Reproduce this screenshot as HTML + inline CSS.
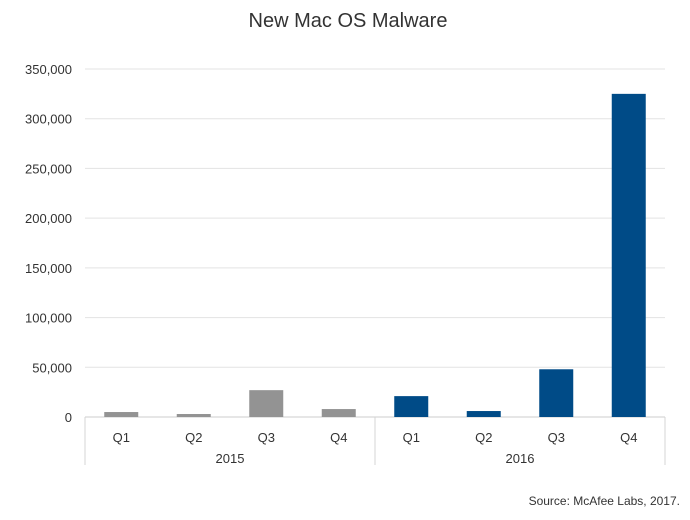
<!DOCTYPE html>
<html><head><meta charset="utf-8"><style>
body{margin:0;background:#fff;font-family:"Liberation Sans",sans-serif;}
</style></head><body>
<svg width="690" height="515" xmlns="http://www.w3.org/2000/svg">
<text x="348" y="27" text-anchor="middle" font-size="20" fill="#333">New Mac OS Malware</text>
<g id="grid"></g><g id="bars"></g><g id="xaxis"></g>
<text x="680" y="505" text-anchor="end" font-size="12" fill="#333">Source: McAfee Labs, 2017.</text>
</svg>
<script>
const categories=["Q1","Q2","Q3","Q4","Q1","Q2","Q3","Q4"];
const years=["2015","2016"];
const values=[5000,3000,27000,8000,21000,6000,48000,325000];
const ticks=[0,50000,100000,150000,200000,250000,300000,350000];
const NS="http://www.w3.org/2000/svg";
const x0=85,x1=665,y0=417,y1=69,maxV=350000;
const ys=v=>y0-(v/maxV)*(y0-y1);
const bw=(x1-x0)/categories.length;
function mk(tag,attrs,parent,txt){const e=document.createElementNS(NS,tag);for(const k in attrs)e.setAttribute(k,attrs[k]);if(txt!=null)e.textContent=txt;document.getElementById(parent).appendChild(e);return e;}
ticks.forEach(t=>{
 const l=mk('line',{x1:x0,x2:x1,y1:ys(t),y2:ys(t),stroke:t===0?'#ccc':'#e3e3e3','stroke-width':1},'grid');
 
 
 const tx=mk('text',{x:72,y:ys(t)+5,'text-anchor':'end','font-size':13,fill:'#333'},'grid',t.toLocaleString('en-US'));
 
 
});
values.forEach((v,i)=>{
 const cx=x0+bw*(i+0.5);
 const r=mk('rect',{x:cx-17,y:ys(v),width:34,height:y0-ys(v),fill:i<4?'#939393':'#004b87'},'bars');
 
 
 const t=mk('text',{x:cx,y:442,'text-anchor':'middle','font-size':13,fill:'#333'},'xaxis',categories[i]);
 
 
});
[x0,(x0+x1)/2,x1].forEach(x=>{
 const l=mk('line',{x1:x,x2:x,y1:y0,y2:465,stroke:'#d5d5d5','stroke-width':1},'xaxis');
 
 
});
years.forEach((y,i)=>{
 const t=mk('text',{x:x0+(x1-x0)/4*(2*i+1),y:463,'text-anchor':'middle','font-size':13,fill:'#333'},'xaxis',y);
 
 
});
</script>
</body></html>
